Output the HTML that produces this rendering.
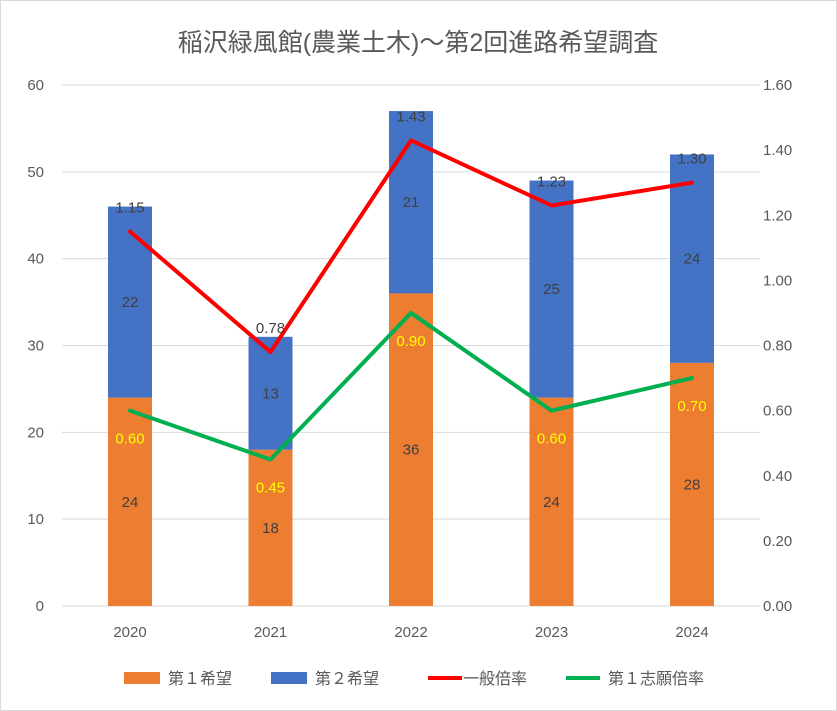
<!DOCTYPE html>
<html><head><meta charset="utf-8">
<style>
body{margin:0;background:#fff;}
svg{display:block;font-family:"Liberation Sans","Noto Sans CJK JP",sans-serif;}
</style></head>
<body>
<svg id="chart" width="837" height="711" viewBox="0 0 837 711">
<rect x="0.5" y="0.5" width="836" height="710" fill="#fff" stroke="#d9d9d9"/>
<text x="418" y="51" text-anchor="middle" font-size="25" fill="#595959">稲沢緑風館(農業土木)～第2回進路希望調査</text>
<g id="grid"></g><g id="bars"></g><g id="lines"></g><g id="labels"></g>
<g id="legend">
<rect x="124" y="672" width="36" height="12" fill="#ed7d31"/>
<text x="168" y="684" font-size="16" fill="#595959">第１希望</text>
<rect x="271" y="672" width="36" height="12" fill="#4472c4"/>
<text x="315" y="684" font-size="16" fill="#595959">第２希望</text>
<line x1="428" y1="678" x2="462" y2="678" stroke="#ff0000" stroke-width="4"/>
<text x="463" y="684" font-size="16" fill="#595959">一般倍率</text>
<line x1="566" y1="678" x2="600" y2="678" stroke="#00b050" stroke-width="4"/>
<text x="608" y="684" font-size="16" fill="#595959">第１志願倍率</text>
</g>
</svg>
<script>
const categories=["2020","2021","2022","2023","2024"];
const first=[24,18,36,24,28];
const second=[22,13,21,25,24];
const generalRate=[1.15,0.78,1.43,1.23,1.30];
const firstRate=[0.60,0.45,0.90,0.60,0.70];
const leftTicks=[0,10,20,30,40,50,60];
const rightTicks=["0.00","0.20","0.40","0.60","0.80","1.00","1.20","1.40","1.60"];

const NS="http://www.w3.org/2000/svg";
const y0=606,yTop=85;
const yL=v=>y0-(v/60)*(y0-yTop);
const yR=v=>y0-(v/1.6)*(y0-yTop);
const xC=i=>130+i*140.5;
const bw=44;
function mk(tag,attrs,parent,txt){const e=document.createElementNS(NS,tag);for(const k in attrs)e.setAttribute(k,attrs[k]);if(txt!==undefined)e.textContent=txt;document.getElementById(parent).appendChild(e);return e;}

leftTicks.forEach(t=>{
  const g=mk("line",{x1:62,x2:760,y1:yL(t),y2:yL(t),stroke:"#d9d9d9","stroke-width":1},"grid");
  
  
  const l=mk("text",{x:44,y:yL(t)+5,"text-anchor":"end","font-size":15,fill:"#595959"},"grid",t);
  
  
});
rightTicks.forEach(t=>{
  const l=mk("text",{x:763,y:yR(parseFloat(t))+5,"font-size":15,fill:"#595959"},"grid",t);
  
  
});
categories.forEach((c,i)=>{
  const l=mk("text",{x:xC(i),y:637,"text-anchor":"middle","font-size":15,fill:"#595959"},"grid",c);
  
  
  const b1=mk("rect",{x:xC(i)-bw/2,y:yL(first[i]),width:bw,height:y0-yL(first[i]),fill:"#ed7d31"},"bars");
  
  
  const b2=mk("rect",{x:xC(i)-bw/2,y:yL(first[i]+second[i]),width:bw,height:yL(first[i])-yL(first[i]+second[i]),fill:"#4472c4"},"bars");
  
  
  const t1=mk("text",{x:xC(i),y:(y0+yL(first[i]))/2+5,"text-anchor":"middle","font-size":15,fill:"#404040"},"labels",first[i]);
  
  
  const t2=mk("text",{x:xC(i),y:(yL(first[i])+yL(first[i]+second[i]))/2+5,"text-anchor":"middle","font-size":15,fill:"#404040"},"labels",second[i]);
  
  
  const t3=mk("text",{x:xC(i),y:yR(generalRate[i])-19,"text-anchor":"middle","font-size":15,fill:"#404040"},"labels",generalRate[i].toFixed(2));
  
  
  const t4=mk("text",{x:xC(i),y:yR(firstRate[i])+33,"text-anchor":"middle","font-size":15,fill:"#ffff00"},"labels",firstRate[i].toFixed(2));
  
  
});
const ax=mk("line",{x1:62,x2:760,y1:y0,y2:y0,stroke:"#d9d9d9","stroke-width":1},"grid");


const p1=mk("polyline",{points:generalRate.map((v,i)=>xC(i)+","+yR(v)).join(" "),fill:"none",stroke:"#ff0000","stroke-width":4,"stroke-linejoin":"round","stroke-linecap":"round"},"lines");


const p2=mk("polyline",{points:firstRate.map((v,i)=>xC(i)+","+yR(v)).join(" "),fill:"none",stroke:"#00b050","stroke-width":4,"stroke-linejoin":"round","stroke-linecap":"round"},"lines");


</script>
</body></html>
